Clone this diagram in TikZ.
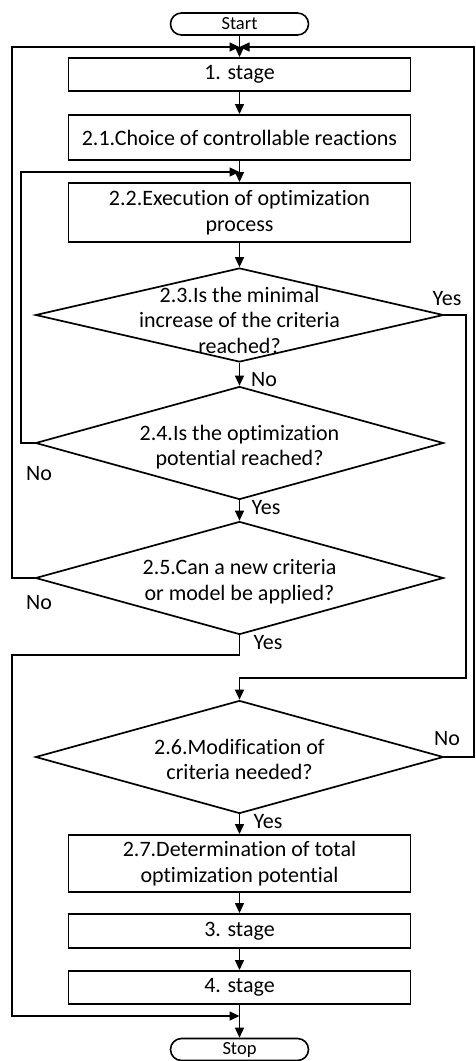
\documentclass[tikz,border=0pt]{standalone}
\usepackage{fontspec}
\setmainfont{Carlito}[Ligatures=CommonOff]
\usetikzlibrary{arrows.meta,shapes.geometric}
\begin{document}
\begin{tikzpicture}[x=1pt,y=-1pt,
  every node/.style={font=\fontsize{22}{25.5}\selectfont},
  procbox/.style={draw, line width=1.9pt, minimum width=342pt, inner sep=0pt, align=center},
  decision/.style={draw, diamond, line width=1.7pt, inner sep=0pt, minimum width=408pt},
  terminal/.style={draw, rounded corners=11pt, line width=1.6pt, minimum width=138pt,
    minimum height=22pt, inner sep=0pt, font=\fontsize{18.5}{20}\selectfont},
  qtext/.style={align=center, inner sep=0pt},
  flow/.style={line width=1.3pt, -{Triangle[length=10pt,width=9pt]}},
  tag/.style={inner sep=0pt}
]
\useasboundingbox (0,0) rectangle (475,1061);

% lanes used by the feedback lines
\coordinate (outerL) at (12,0);
\coordinate (innerL) at (21,0);
\coordinate (midR)   at (466,0);
\coordinate (outerR) at (474,0);

% joints on the main column
\coordinate (j1) at (239.5,47);
\coordinate (j2) at (239.5,172);
\coordinate (j3) at (239.5,678);
\coordinate (j4) at (239.5,655);
\coordinate (j5) at (239.5,1016);

% main column
\node[terminal] (start) at (239.5,24) {Start};
\node[procbox, minimum height=33pt] (s1) at (239.5,74.5) {1. stage};
\node[procbox, minimum height=45pt] (s21) at (239.5,137.5) {2.1.Choice of controllable reactions};
\node[procbox, minimum height=59pt] (s22) at (239.5,212.5) {2.2.Execution of optimization\\process};

\node[decision, minimum height=94pt] (d23) at (239.5,315) {};
\node[qtext] (t23) at (239.5,320) {2.3.Is the minimal\\increase of the criteria\\reached?};

\node[decision, minimum height=113pt] (d24) at (239.5,443) {};
\node[qtext] (t24) at (239.5,447) {2.4.Is the optimization\\potential reached?};

\node[decision, minimum height=113pt] (d25) at (239.5,578) {};
\node[qtext] (t25) at (239.5,581.5) {2.5.Can a new criteria\\or model be applied?};

\node[decision, minimum height=113pt] (d26) at (239.5,757) {};
\node[qtext] (t26) at (239.5,759.5) {2.6.Modification of\\criteria needed?};

\node[procbox, minimum height=57pt] (s27) at (239.5,863.5) {2.7.Determination of total\\optimization potential};
\node[procbox, minimum height=34pt] (s3) at (239.5,931) {3. stage};
\node[procbox, minimum height=33pt] (s4) at (239.5,987.5) {4. stage};
\node[terminal] (stop) at (239.5,1049.5) {Stop};

% straight flow
\draw[flow] (start) -- (s1);
\draw[flow] (s1) -- (s21);
\draw[flow] (s21) -- (s22);
\draw[flow] (s22) -- (d23);
\draw[flow] (d23) -- (d24);
\draw[flow] (d24) -- (d25);
\draw[flow] (d26) -- (s27);
\draw[flow] (s27) -- (s3);
\draw[flow] (s3) -- (s4);
\draw[flow] (s4) -- (stop);

% feedback and bypass lines
\draw[flow] (d24.west) -- (d24.west -| innerL) -- (innerL |- j2) -- (j2);
\draw[flow] (d25.west) -- (d25.west -| outerL) -- (outerL |- j1) -- (j1);
\draw[flow] (d26.east) -- (d26.east -| outerR) -- (outerR |- j1) -- (j1);
\draw[flow] (d23.east) -- (d23.east -| midR) -- (midR |- j3) -- (j3) -- (d26);
\draw[flow] (d25.south) -- (j4) -- (j4 -| outerL) -- (outerL |- j5) -- (j5);

% branch labels
\node[tag] (y23) at (447,299) {Yes};
\node[tag] (n23) at (264,380) {No};
\node[tag] (n24) at (39,474) {No};
\node[tag] (y24) at (266,508) {Yes};
\node[tag] (n25) at (39,603) {No};
\node[tag] (y25) at (268,643) {Yes};
\node[tag] (n26) at (447,739) {No};
\node[tag] (y26) at (268,822) {Yes};
\end{tikzpicture}
\end{document}
